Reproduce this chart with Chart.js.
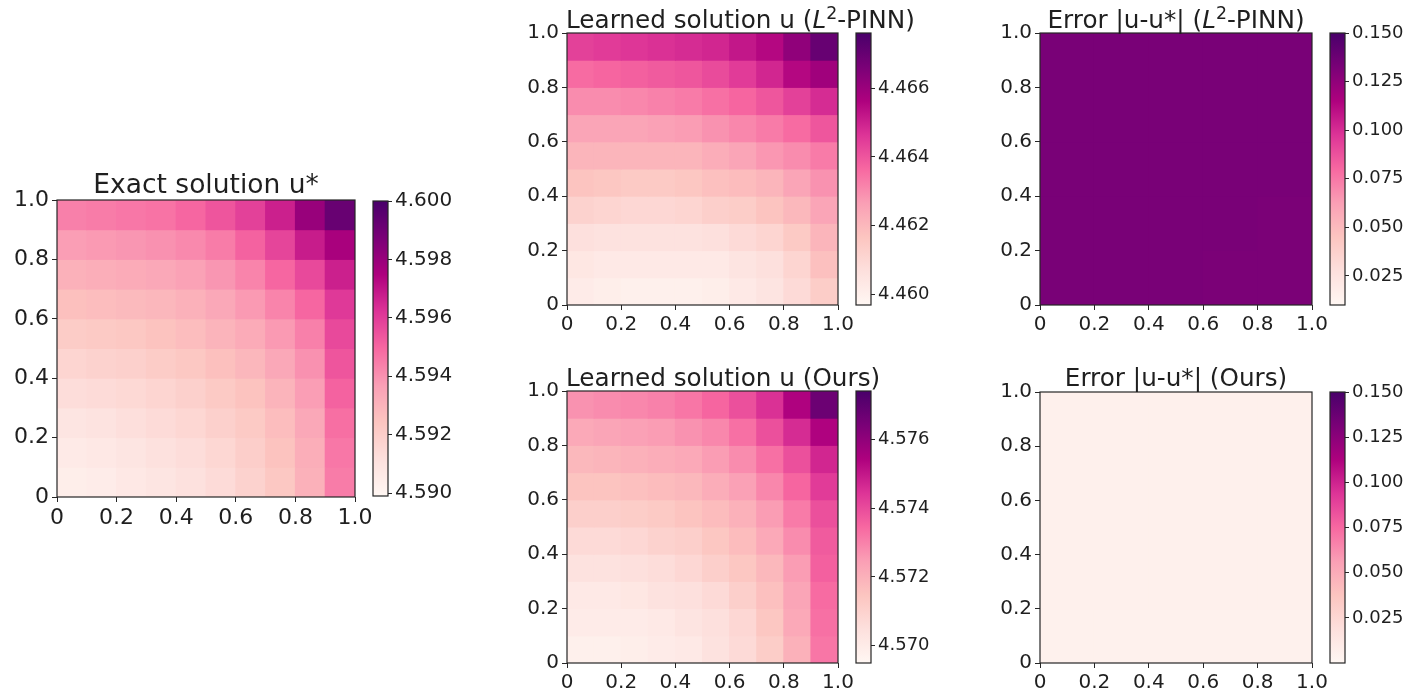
<!DOCTYPE html>
<html>
<head>
<meta charset="utf-8">
<script src="https://cdn.jsdelivr.net/npm/chart.js@4.4.1/dist/chart.umd.min.js"></script>
<style>
  html, body { margin: 0; padding: 0; background: #fff; }
  #fig { position: relative; width: 1406px; height: 690px; overflow: hidden; background: #fff; }
  #fig canvas { position: absolute; }
</style>
</head>
<body>
<div id="fig"></div>
<script>
// axis ticks shared by every heatmap
const axisTicks = [0, 0.2, 0.4, 0.6, 0.8, 1.0]
const axisTickLabels = ['0', '0.2', '0.4', '0.6', '0.8', '1.0']

// colorbar ticks and limits
const exactTicks = [4.590, 4.592, 4.594, 4.596, 4.598, 4.600]
const pinnTicks  = [4.460, 4.462, 4.464, 4.466]
const oursTicks  = [4.570, 4.572, 4.574, 4.576]
const errTicks   = [0.025, 0.050, 0.075, 0.100, 0.125, 0.150]

const exactRange   = [4.5899, 4.6000]
const pinnRange    = [4.4597, 4.4676]
const oursRange    = [4.5695, 4.5774]
const pinnErrRange = [0.010, 0.150]
const oursErrRange = [0.000, 0.150]

// cell values, rows listed top (y=1) to bottom (y=0), columns x=0 -> 1
const exactU = [
  [4.5944, 4.5945, 4.5946, 4.5947, 4.5950, 4.5954, 4.5959, 4.5967, 4.5980, 4.5992],
  [4.5937, 4.5938, 4.5939, 4.5940, 4.5942, 4.5945, 4.5951, 4.5958, 4.5968, 4.5976],
  [4.5931, 4.5932, 4.5933, 4.5934, 4.5936, 4.5939, 4.5943, 4.5950, 4.5957, 4.5967],
  [4.5926, 4.5927, 4.5928, 4.5929, 4.5931, 4.5934, 4.5938, 4.5943, 4.5950, 4.5961],
  [4.5921, 4.5922, 4.5923, 4.5925, 4.5927, 4.5930, 4.5933, 4.5938, 4.5944, 4.5957],
  [4.5917, 4.5918, 4.5919, 4.5921, 4.5923, 4.5926, 4.5929, 4.5934, 4.5940, 4.5954],
  [4.5913, 4.5914, 4.5915, 4.5917, 4.5919, 4.5922, 4.5925, 4.5930, 4.5937, 4.5951],
  [4.5909, 4.5910, 4.5912, 4.5914, 4.5916, 4.5919, 4.5922, 4.5927, 4.5934, 4.5948],
  [4.5906, 4.5907, 4.5909, 4.5911, 4.5913, 4.5916, 4.5920, 4.5925, 4.5932, 4.5946],
  [4.5904, 4.5905, 4.5907, 4.5909, 4.5911, 4.5914, 4.5918, 4.5923, 4.5931, 4.5945],
]

const pinnU = [
  [4.4644, 4.4645, 4.4646, 4.4647, 4.4648, 4.4649, 4.4652, 4.4655, 4.4662, 4.4670],
  [4.4636, 4.4637, 4.4638, 4.4639, 4.4640, 4.4642, 4.4645, 4.4649, 4.4655, 4.4659],
  [4.4630, 4.4630, 4.4631, 4.4632, 4.4633, 4.4635, 4.4637, 4.4640, 4.4644, 4.4648],
  [4.4625, 4.4625, 4.4625, 4.4626, 4.4627, 4.4629, 4.4631, 4.4633, 4.4636, 4.4640],
  [4.4621, 4.4621, 4.4621, 4.4621, 4.4621, 4.4623, 4.4625, 4.4628, 4.4630, 4.4633],
  [4.4617, 4.4616, 4.4615, 4.4615, 4.4616, 4.4618, 4.4619, 4.4621, 4.4625, 4.4629],
  [4.4612, 4.4611, 4.4610, 4.4610, 4.4611, 4.4613, 4.4614, 4.4617, 4.4620, 4.4625],
  [4.4607, 4.4606, 4.4606, 4.4606, 4.4606, 4.4607, 4.4609, 4.4611, 4.4615, 4.4621],
  [4.4604, 4.4603, 4.4603, 4.4603, 4.4603, 4.4603, 4.4605, 4.4607, 4.4611, 4.4618],
  [4.4602, 4.4601, 4.4600, 4.4600, 4.4600, 4.4601, 4.4603, 4.4605, 4.4609, 4.4614],
]

const oursU = [
  [4.5727, 4.5728, 4.5729, 4.5730, 4.5732, 4.5735, 4.5739, 4.5745, 4.5754, 4.5767],
  [4.5722, 4.5723, 4.5724, 4.5725, 4.5727, 4.5729, 4.5733, 4.5739, 4.5746, 4.5754],
  [4.5718, 4.5719, 4.5720, 4.5721, 4.5722, 4.5725, 4.5728, 4.5733, 4.5739, 4.5747],
  [4.5715, 4.5715, 4.5716, 4.5717, 4.5718, 4.5721, 4.5724, 4.5729, 4.5735, 4.5743],
  [4.5711, 4.5711, 4.5712, 4.5713, 4.5715, 4.5717, 4.5720, 4.5725, 4.5731, 4.5739],
  [4.5707, 4.5707, 4.5708, 4.5710, 4.5711, 4.5714, 4.5717, 4.5722, 4.5728, 4.5737],
  [4.5704, 4.5704, 4.5705, 4.5706, 4.5708, 4.5711, 4.5714, 4.5718, 4.5725, 4.5736],
  [4.5701, 4.5701, 4.5702, 4.5704, 4.5705, 4.5707, 4.5711, 4.5716, 4.5723, 4.5734],
  [4.5700, 4.5700, 4.5700, 4.5701, 4.5703, 4.5705, 4.5708, 4.5714, 4.5722, 4.5733],
  [4.5698, 4.5698, 4.5699, 4.5700, 4.5701, 4.5704, 4.5707, 4.5712, 4.5720, 4.5732],
]

const pinnErr = [
  [0.133, 0.133, 0.133, 0.133, 0.133],
  [0.133, 0.133, 0.133, 0.133, 0.133],
  [0.133, 0.133, 0.133, 0.133, 0.133],
  [0.133, 0.133, 0.133, 0.133, 0.132],
  [0.133, 0.133, 0.133, 0.132, 0.132],
]

const oursErr = [
  [0.006, 0.006, 0.006, 0.006, 0.006],
  [0.006, 0.006, 0.006, 0.006, 0.006],
  [0.006, 0.006, 0.006, 0.006, 0.006],
  [0.006, 0.006, 0.006, 0.006, 0.006],
  [0.005, 0.005, 0.005, 0.005, 0.005],
]

const FONT  = '"DejaVu Sans", sans-serif'
const INK   = '#1f1f1f'
const SPINE = '#262626'

// matplotlib RdPu
const RDPU = ['#fff7f3', '#fde0dd', '#fcc5c0', '#fa9fb5', '#f768a1', '#dd3497', '#ae017e', '#7a0177', '#49006a']
const RDPU_RGB = RDPU.map(h => [1, 3, 5].map(k => parseInt(h.slice(k, k + 2), 16)))

function rdpu(t) {
  t = Math.max(0, Math.min(1, t))
  const s = t * (RDPU_RGB.length - 1)
  const k = Math.min(Math.floor(s), RDPU_RGB.length - 2)
  const f = s - k
  const a = RDPU_RGB[k], b = RDPU_RGB[k + 1]
  return `rgb(${a.map((v, i) => Math.round(v + (b[i] - v) * f)).join(',')})`
}

function rdpuGradient(chart) {
  const a = chart.chartArea
  if (!a) return RDPU[4]
  const g = chart.ctx.createLinearGradient(0, a.bottom, 0, a.top)
  RDPU.forEach((c, k) => g.addColorStop(k / (RDPU.length - 1), c))
  return g
}

const framePlugin = {
  id: 'frame',
  afterDatasetsDraw(chart) {
    const { ctx, chartArea: a } = chart
    ctx.save()
    ctx.strokeStyle = SPINE
    ctx.lineWidth = 1.2
    ctx.strokeRect(a.left, a.top, a.right - a.left, a.bottom - a.top)
    ctx.restore()
  },
}

// title with mathtext-like runs (italic L, superscript 2)
const titlePlugin = {
  id: 'panelTitle',
  afterDraw(chart, args, opts) {
    if (!opts.runs) return
    const { ctx, chartArea: a } = chart
    const size = opts.size
    const fontFor = r => `${r.italic ? 'italic ' : ''}${r.sup ? size * 0.7 : size}px ${FONT}`
    ctx.save()
    ctx.fillStyle = INK
    ctx.textBaseline = 'alphabetic'
    ctx.textAlign = 'left'
    let total = 0
    const widths = opts.runs.map(r => { ctx.font = fontFor(r); const w = ctx.measureText(r.text).width; total += w; return w })
    let x = opts.align === 'start' ? a.left + (opts.dx || 0) : (a.left + a.right) / 2 - total / 2
    const y = a.top - opts.gap
    opts.runs.forEach((r, i) => {
      ctx.font = fontFor(r)
      ctx.fillText(r.text, x, r.sup ? y - size * 0.38 : y)
      x += widths[i]
    })
    ctx.restore()
  },
}

function addCanvas(left, top, width, height) {
  const c = document.createElement('canvas')
  c.width = width
  c.height = height
  c.style.left = left + 'px'
  c.style.top = top + 'px'
  c.style.width = width + 'px'
  c.style.height = height + 'px'
  document.getElementById('fig').appendChild(c)
  return c
}

function renderHeatmap(p) {
  const padL = 60, padT = 45, padR = 100, padB = 40
  const w = p.right - p.left, h = p.bottom - p.top
  const canvas = addCanvas(p.left - padL, p.top - padT, w + padL + padR, h + padT + padB)
  const rows = p.grid.length, cols = p.grid[0].length
  const [vmin, vmax] = p.range

  const datasets = p.grid.map((row, r) => {
    const j = rows - 1 - r
    return {
      data: row.map((v, i) => ({ x: (i + 0.5) / cols, y: [j / rows, (j + 1) / rows], v })),
      backgroundColor: row.map(v => rdpu((v - vmin) / (vmax - vmin))),
      borderWidth: 0,
      inflateAmount: 0.5,
      grouped: false,
      barPercentage: 1,
      categoryPercentage: 1,
    }
  })

  const axis = (position, sizeKey, size) => ({
    type: 'linear', position, min: 0, max: 1, offset: false,
    afterBuildTicks: s => { s.ticks = axisTicks.map(value => ({ value })) },
    afterFit: s => { s[sizeKey] = size },
    ticks: {
      font: { family: FONT, size: p.tickSize }, color: INK, padding: 3,
      maxRotation: 0, autoSkip: false,
      callback: (v, i) => axisTickLabels[i],
    },
    grid: { display: true, drawOnChartArea: false, drawTicks: true, tickLength: 5, color: SPINE, offset: false },
    border: { display: false },
  })

  new Chart(canvas, {
    type: 'bar',
    data: { datasets },
    options: {
      responsive: false, animation: false, devicePixelRatio: 1, events: [],
      layout: { padding: { left: 0, top: padT, right: padR, bottom: 0 } },
      scales: { x: axis('bottom', 'height', padB), y: axis('left', 'width', padL) },
      plugins: {
        legend: { display: false },
        tooltip: { enabled: false },
        panelTitle: { runs: p.title, size: p.titleSize, align: p.titleAlign, gap: p.titleGap, dx: p.titleDx },
      },
    },
    plugins: [framePlugin, titlePlugin],
  })
}

function renderColorbar(p) {
  const padL = 4, padT = 14, padB = 14, axisW = 80
  const [l, r] = p.cbar
  const w = r - l, h = p.bottom - p.top
  const canvas = addCanvas(l - padL, p.top - padT, padL + w + axisW, h + padT + padB)
  const [vmin, vmax] = p.range

  new Chart(canvas, {
    type: 'bar',
    data: {
      labels: [''],
      datasets: [{
        data: [[vmin, vmax]],
        backgroundColor: c => rdpuGradient(c.chart),
        borderWidth: 0, inflateAmount: 0,
        barPercentage: 1, categoryPercentage: 1,
      }],
    },
    options: {
      responsive: false, animation: false, devicePixelRatio: 1, events: [],
      layout: { padding: { left: padL, top: padT, right: 0, bottom: padB } },
      scales: {
        x: { display: false },
        y: {
          position: 'right', min: vmin, max: vmax,
          afterBuildTicks: s => { s.ticks = p.cbTicks.map(value => ({ value })) },
          afterFit: s => { s.width = axisW },
          ticks: { font: { family: FONT, size: p.cbSize }, color: INK, padding: 3, autoSkip: false, callback: (v, i) => p.cbTicks[i].toFixed(3) },
          grid: { display: true, drawOnChartArea: false, drawTicks: true, tickLength: 4, color: SPINE },
          border: { display: false },
        },
      },
      plugins: { legend: { display: false }, tooltip: { enabled: false } },
    },
    plugins: [framePlugin],
  })
}

const panels = [
  {
    grid: exactU, range: exactRange, cbTicks: exactTicks,
    left: 57, top: 200, right: 355, bottom: 497, cbar: [373, 388],
    tickSize: 22, cbSize: 20, titleSize: 26.5, titleAlign: 'center', titleGap: 7,
    title: [{ text: 'Exact solution u*' }],
  },
  {
    grid: pinnU, range: pinnRange, cbTicks: pinnTicks,
    left: 567, top: 33, right: 838, bottom: 305, cbar: [856, 871],
    tickSize: 20, cbSize: 18, titleSize: 24.7, titleAlign: 'start', titleDx: -1, titleGap: 5,
    title: [{ text: 'Learned solution u (' }, { text: 'L', italic: true }, { text: '2', sup: true }, { text: '-PINN)' }],
  },
  {
    grid: pinnErr, range: pinnErrRange, cbTicks: errTicks,
    left: 1040, top: 33, right: 1312, bottom: 305, cbar: [1330, 1345],
    tickSize: 20, cbSize: 18, titleSize: 24.7, titleAlign: 'center', titleGap: 5,
    title: [{ text: 'Error |u-u*| (' }, { text: 'L', italic: true }, { text: '2', sup: true }, { text: '-PINN)' }],
  },
  {
    grid: oursU, range: oursRange, cbTicks: oursTicks,
    left: 567, top: 391, right: 838, bottom: 663, cbar: [856, 871],
    tickSize: 20, cbSize: 18, titleSize: 24.7, titleAlign: 'start', titleDx: -1, titleGap: 5,
    title: [{ text: 'Learned solution u (Ours)' }],
  },
  {
    grid: oursErr, range: oursErrRange, cbTicks: errTicks,
    left: 1040, top: 392, right: 1312, bottom: 663, cbar: [1330, 1345],
    tickSize: 20, cbSize: 18, titleSize: 24.7, titleAlign: 'center', titleGap: 6,
    title: [{ text: 'Error |u-u*| (Ours)' }],
  },
]

panels.forEach(p => {
  renderHeatmap(p)
  renderColorbar(p)
})
</script>
</body>
</html>
